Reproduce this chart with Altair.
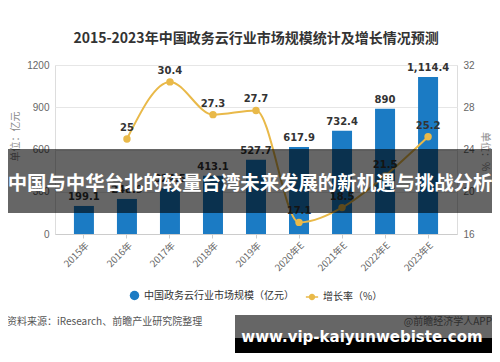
import altair as alt
import pandas as pd

years = ["2015年", "2016年", "2017年", "2018年", "2019年", "2020年E", "2021年E", "2022年E", "2023年E"]
market = [199.1, 248.9, 324.5, 413.1, 527.7, 617.9, 732.4, 890, 1114.4]
growth_years = ["2016年", "2017年", "2018年", "2019年", "2020年E", "2021年E", "2022年E", "2023年E"]
growth = [25, 30.4, 27.3, 27.7, 17.1, 18.5, 21.5, 25.2]

bar_name = "中国政务云行业市场规模（亿元）"
line_name = "增长率（%）"
title_text = "2015-2023年中国政务云行业市场规模统计及增长情况预测"
overlay_text = "中国与中华台北的较量台湾未来发展的新机遇与挑战分析"
source_text = "资料来源：iResearch、前瞻产业研究院整理"
credit_text = "@前瞻经济学人APP"
watermark_text = "www.vip-kaiyunwebiste.com"

BLUE = "#1b7bc4"
GOLD = "#e9b949"
FONT = "Noto Sans CJK SC"

bar_df = pd.DataFrame({"year": years, "market": market, "series": bar_name})
line_df = pd.DataFrame({"year": growth_years, "rate": growth, "series": line_name})
one = pd.DataFrame({"k": [0]})

xenc = alt.X(
    "year:N", sort=years,
    scale=alt.Scale(domain=years, paddingInner=0.535, paddingOuter=0.44),
    axis=alt.Axis(title=None, labelAngle=-45, labelAlign="right", labelBaseline="top",
                  labelColor="#666", labelFontSize=9.5, labelFont=FONT,
                  domainColor="#cccccc", tickColor="#cccccc", tickSize=4, labelPadding=2),
)

yleft = alt.Y(
    "market:Q",
    scale=alt.Scale(domain=[0, 1200], nice=False),
    axis=alt.Axis(values=[0, 300, 600, 900, 1200], format="d", title="单位：亿元", titleX=-35, titleY=71,
                  titleAngle=-90, titleFontWeight="normal", titleColor="#888", titleFontSize=10,
                  titleFont=FONT, labelColor="#666", labelFontSize=10, labelPadding=6,
                  domain=False, ticks=False, grid=True, gridColor="#e6e6e6"),
)

bars = alt.Chart(bar_df).mark_bar().encode(
    x=xenc, y=yleft,
    color=alt.Color("series:N", scale=alt.Scale(domain=[bar_name], range=[BLUE]),
                    legend=alt.Legend(title=None, orient="none", legendX=74, legendY=225,
                                      symbolType="circle", symbolSize=90, labelFontSize=10,
                                      labelColor="#333", labelFont=FONT)),
)
bar_labels = alt.Chart(bar_df).mark_text(dy=-9, fontWeight="bold", fontSize=10, color="#333",
                                          font="DejaVu Sans").encode(
    x=xenc, y=yleft, text=alt.Text("market:Q", format=","),
)

yright = alt.Y(
    "rate:Q",
    scale=alt.Scale(domain=[16, 32], nice=False),
    axis=alt.Axis(orient="right", values=[16, 20, 24, 28, 32], title="单位：%", titleX=22, titleY=86,
                  titleAngle=90, titleFontWeight="normal", titleColor="#888", titleFontSize=10,
                  titleFont=FONT, labelColor="#666", labelFontSize=10, labelPadding=6,
                  domain=False, ticks=False, grid=False),
)

line = alt.Chart(line_df).mark_line(interpolate="monotone", strokeWidth=2).encode(
    x=xenc, y=yright,
    stroke=alt.Stroke("series:N", scale=alt.Scale(domain=[line_name], range=[GOLD]),
                      legend=alt.Legend(title=None, orient="none", legendX=250, legendY=225,
                                        symbolType="M-1,0H1M0.4,0A0.4,0.4,0,1,1,-0.4,0A0.4,0.4,0,1,1,0.4,0Z",
                                        symbolSize=150, symbolFillColor=GOLD, symbolStrokeWidth=1.5,
                                        labelFontSize=10, labelColor="#333", labelFont=FONT)),
)
points = alt.Chart(line_df).mark_point(filled=True, size=55, opacity=1, color=GOLD).encode(
    x=xenc, y=yright,
)
line_labels = alt.Chart(line_df).mark_text(dy=-11, fontWeight="bold", fontSize=10, color="#333",
                                           font="DejaVu Sans").encode(
    x=xenc, y=yright, text=alt.Text("rate:Q"),
)

left = alt.layer(bars, bar_labels)
right = alt.layer(line, points, line_labels)

source = alt.Chart(one).mark_text(align="left", baseline="middle", fontSize=10, color="#555", font=FONT).encode(
    x=alt.value(-48), y=alt.value(257), text=alt.value(source_text))
credit = alt.Chart(one).mark_text(align="right", baseline="middle", fontSize=10, color="#777", font=FONT).encode(
    x=alt.value(437), y=alt.value(257), text=alt.value(credit_text))

overlay = alt.Chart(one).mark_rect(color="#000000", opacity=0.6).encode(
    x=alt.value(-47), x2=alt.value(437), y=alt.value(84), y2=alt.value(148))
overlay_t = alt.Chart(one).mark_text(align="center", baseline="middle", fontSize=19.4, fontWeight="bold",
                                     color="#ffffff", font=FONT).encode(
    x=alt.value(195), y=alt.value(119), text=alt.value(overlay_text))

wm_top = alt.Chart(one).mark_rect(color="#000000", opacity=0.6).encode(
    x=alt.value(180), x2=alt.value(437), y=alt.value(250), y2=alt.value(273))
wm_bot = alt.Chart(one).mark_rect(color="#000000", opacity=1).encode(
    x=alt.value(180), x2=alt.value(437), y=alt.value(273), y2=alt.value(288))
wm_t = alt.Chart(one).mark_text(align="center", baseline="middle", fontSize=15, fontWeight="bold",
                                color="#ffffff", font="DejaVu Sans").encode(
    x=alt.value(307), y=alt.value(272), text=alt.value(watermark_text))

main = alt.layer(left, right).resolve_scale(y="independent", color="independent", stroke="independent")

chart = alt.layer(main, source, credit, overlay, overlay_t, wm_top, wm_bot, wm_t).properties(
    width=402, height=169,
    autosize=alt.AutoSizeParams(type="none"),
    padding={"left": 47, "top": 57, "right": 35, "bottom": 120},
    title=alt.TitleParams(title_text, anchor="middle", fontSize=14, fontWeight="bold",
                          color="#333", font=FONT, offset=14),
).configure_view(stroke=None).configure(background="#ffffff")

chart.save("out.html", embed_options={"renderer": "svg", "actions": False})
